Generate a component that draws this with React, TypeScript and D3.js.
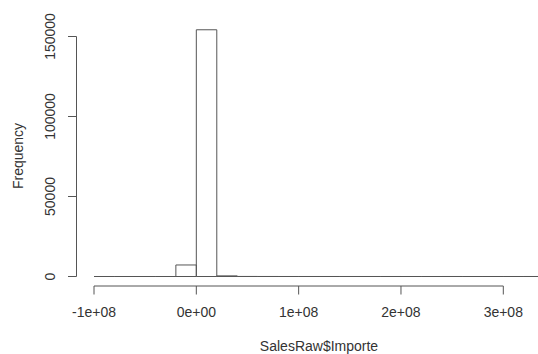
import React from "react";
import * as d3 from "d3";

const binStart = -1e8;
const binWidth = 2e7;
const counts = [0, 0, 0, 0, 7200, 154200, 400, 30, 10, 5, 3, 2, 1, 1, 1, 0, 0, 1, 0, 0, 0, 1];
const xTicks = [-1e8, 0, 1e8, 2e8, 3e8];
const xTickLabels = ["-1e+08", "0e+00", "1e+08", "2e+08", "3e+08"];
const yTicks = [0, 50000, 100000, 150000];
const yTickLabels = ["0", "50000", "100000", "150000"];
const xLabel = "SalesRaw$Importe";
const yLabel = "Frequency";

export default function App() {
  const W = 538, H = 354;
  const x = d3.scaleLinear().domain([-1e8, 3e8]).range([94, 503.3]);
  const y = d3.scaleLinear().domain([0, 150000]).range([276.5, 36.5]);
  const font = "'Liberation Sans', Arial, Helvetica, sans-serif";
  const axisCol = "#555";
  const textCol = "#333";
  const axisY = 286;
  const axisX = 76.5;
  return (
    <svg width={W} height={H} style={{ position: "absolute", left: 0, top: 0, background: "#fff" }} fontFamily={font}>
      {counts.map((c, i) => {
        const x0 = x(binStart + i * binWidth);
        const x1 = x(binStart + (i + 1) * binWidth);
        const p = d3.path();
        p.moveTo(x0, y(0));
        p.lineTo(x0, y(c));
        p.lineTo(x1, y(c));
        p.lineTo(x1, y(0));
        p.closePath();
        return (
          <path key={i} d={p.toString()} fill="none" stroke="#555" strokeWidth={1} />
        );
      })}
      {/* x axis */}
      <line x1={x(xTicks[0])} x2={x(xTicks[xTicks.length - 1])} y1={axisY} y2={axisY} stroke={axisCol} />
      {xTicks.map((t, i) => (
        <g key={i}>
          <line x1={x(t)} x2={x(t)} y1={axisY} y2={axisY + 8.5} stroke={axisCol} />
          <text x={x(t)} y={317} textAnchor="middle" fontSize={14} fill={textCol}>{xTickLabels[i]}</text>
        </g>
      ))}
      {/* y axis */}
      <line x1={axisX} x2={axisX} y1={y(yTicks[0])} y2={y(yTicks[yTicks.length - 1])} stroke={axisCol} />
      {yTicks.map((t, i) => (
        <g key={i}>
          <line x1={axisX - 8.5} x2={axisX} y1={y(t)} y2={y(t)} stroke={axisCol} />
          <text transform={`translate(55,${y(t)}) rotate(-90)`} textAnchor="middle" fontSize={14} fill={textCol}>{yTickLabels[i]}</text>
        </g>
      ))}
      <text x={319} y={351} textAnchor="middle" fontSize={14} fill={textCol}>{xLabel}</text>
      <text transform={`translate(23,156) rotate(-90)`} textAnchor="middle" fontSize={14} fill={textCol}>{yLabel}</text>
    </svg>
  );
}
